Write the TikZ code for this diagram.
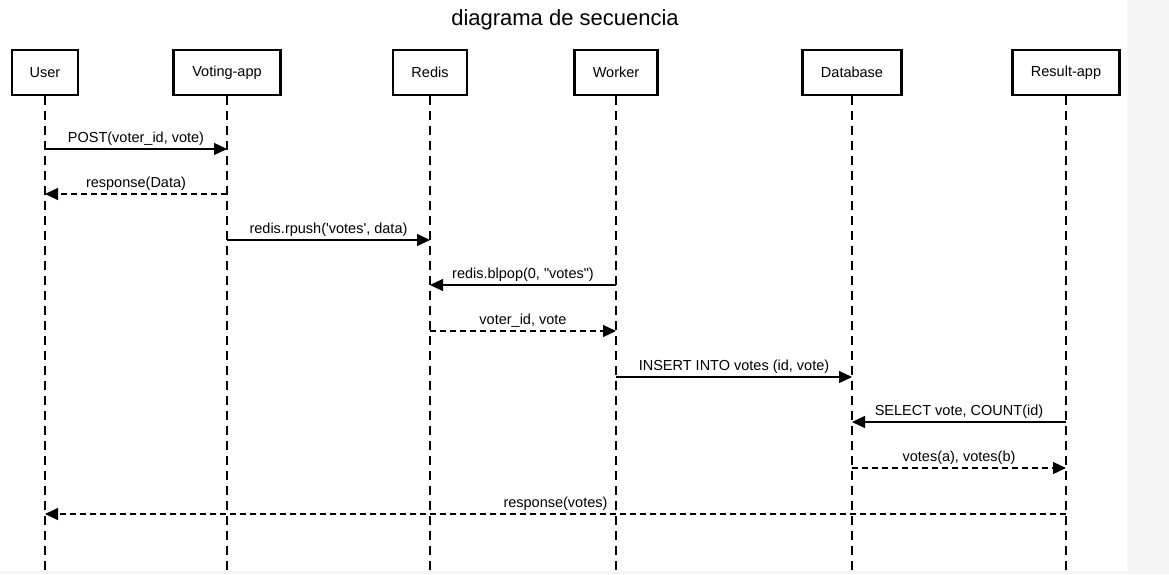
\documentclass[tikz,border=0pt]{standalone}
\usepackage{fontspec}
\setmainfont{Liberation Sans}
\usetikzlibrary{arrows.meta}
\begin{document}
\begin{tikzpicture}[x=1pt,y=-1pt,
  actorbox/.style={draw=black,line width=2.2pt,fill=white,minimum width=#1,minimum height=45pt,inner sep=0pt,font=\fontsize{14.5}{16}\selectfont},
  lifeline/.style={line width=1.2pt,dash pattern=on 9pt off 6pt},
  msg/.style={line width=1.2pt,-{Triangle[length=13pt,width=12pt]}},
  reply/.style={msg,dash pattern=on 6pt off 4pt},
  lbl/.style={anchor=base,inner sep=0pt,font=\fontsize{14.5}{16}\selectfont,yshift=7pt}
]
\useasboundingbox (0,0) rectangle (1169,574);
\fill[black!4] (0,0) rectangle (1169,574);
\fill[white] (0,0) rectangle (1127,571);
\node[anchor=base,inner sep=0pt,font=\fontsize{22}{26}\selectfont] (title) at (565,25) {diagrama de secuencia};
\coordinate (bottom) at (0,571);
\node[actorbox=66pt] (user) at (45,72.5) {User};
\node[actorbox=107pt] (vote) at (227,72.5) {Voting-app};
\node[actorbox=74pt] (redis) at (430,72.5) {Redis};
\node[actorbox=83pt] (worker) at (616,72.5) {Worker};
\node[actorbox=99pt] (db) at (852,72.5) {Database};
\node[actorbox=107pt] (res) at (1066,72.5) {Result-app};
\foreach \n in {user,vote,redis,worker,db,res}
  \draw[lifeline] (\n.south) -- (\n.south |- bottom);
\draw[msg] (user.south |- 0,149) -- node[lbl]{POST(voter\_id, vote)} (vote.south |- 0,149);
\draw[reply] (vote.south |- 0,194) -- node[lbl]{response(Data)} (user.south |- 0,194);
\draw[msg] (vote.south |- 0,240) -- node[lbl]{redis.rpush(\textquotesingle votes\textquotesingle, data)} (redis.south |- 0,240);
\draw[msg] (worker.south |- 0,285) -- node[lbl]{redis.blpop(0, \textquotedbl votes\textquotedbl)} (redis.south |- 0,285);
\draw[reply] (redis.south |- 0,331) -- node[lbl]{voter\_id, vote} (worker.south |- 0,331);
\draw[msg] (worker.south |- 0,377) -- node[lbl]{INSERT INTO votes (id, vote)} (db.south |- 0,377);
\draw[msg] (res.south |- 0,422) -- node[lbl]{SELECT vote, COUNT(id)} (db.south |- 0,422);
\draw[reply] (db.south |- 0,468) -- node[lbl]{votes(a), votes(b)} (res.south |- 0,468);
\draw[reply] (res.south |- 0,514) -- node[lbl]{response(votes)} (user.south |- 0,514);
\end{tikzpicture}
\end{document}
